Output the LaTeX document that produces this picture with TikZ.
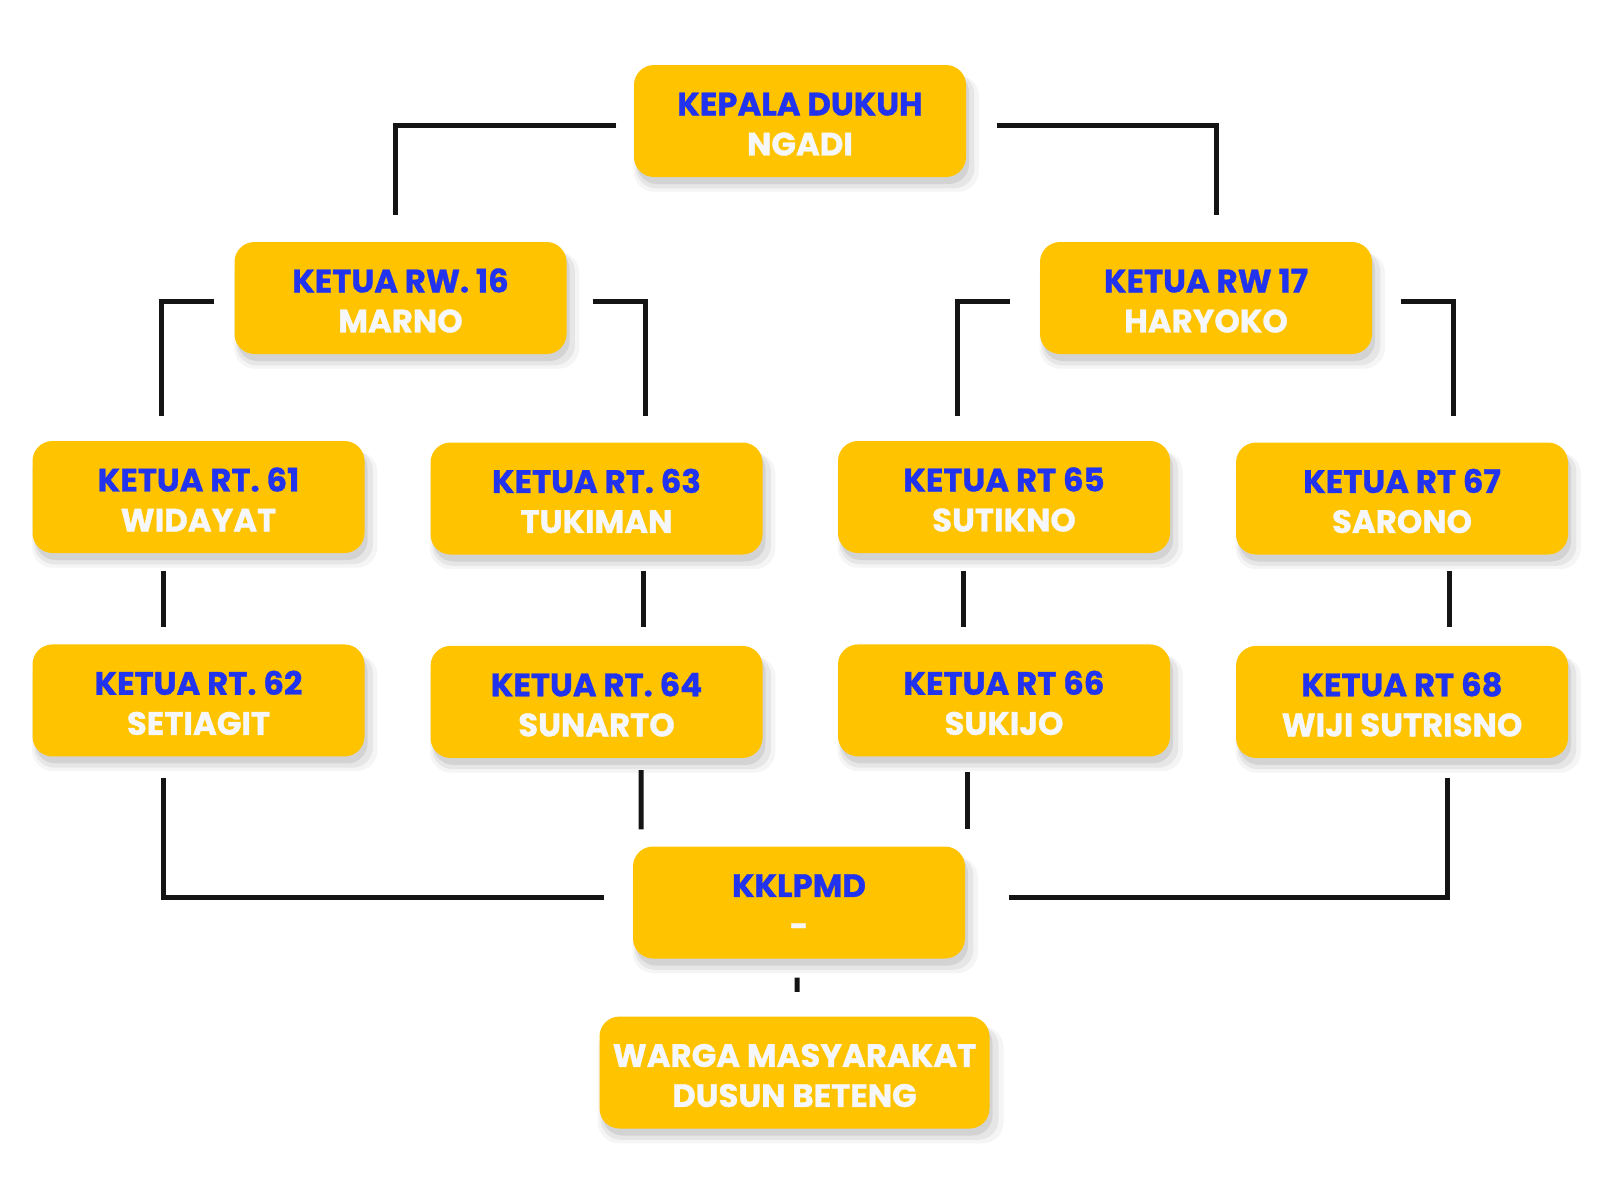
\documentclass[tikz,border=0pt]{standalone}
\usepackage{fontspec}
\setmainfont{Poppins}[BoldFeatures={FakeBold=1}]
\usepackage{xcolor}
\usetikzlibrary{positioning, calc, shadows}
\definecolor{cGold}{RGB}{255,195,0}
\definecolor{cBlue}{RGB}{34,51,238}
\definecolor{cSnow}{RGB}{246,247,251}
\definecolor{cLine}{RGB}{20,20,20}
\tikzset{
	post/.style    ={rectangle, rounded corners=0.2cm, minimum width=3.32cm, minimum height=1.12cm, align=center, inner sep=0pt, fill=cGold,
		font=\fontsize{9.2}{11.4}\selectfont\bfseries,
		general shadow={shadow xshift=0.06cm, shadow yshift=-0.12cm, shadow scale=1.04, fill=black, opacity=0.04},
		general shadow={shadow xshift=0.05cm, shadow yshift=-0.10cm, shadow scale=1.02, fill=black, opacity=0.06},
		general shadow={shadow xshift=0.03cm, shadow yshift=-0.07cm, fill=black, opacity=0.08}},
	conn/.style    ={draw=cLine, line width=0.05cm},
}
\newcommand{\officer}[2]{\rule{0pt}{0.29cm}\textcolor{cBlue}{#1}\\\textcolor{cSnow}{#2}}

\begin{document}
\begin{tikzpicture}[node distance=0.9cm]
	\fill[white] (0,0) rectangle (16,-12);
	% head
	\node[post] (head) at (8.00,-1.21) {\officer{KEPALA DUKUH}{NGADI}};
	% RW level
	\node[post] (rw16) at (4.005,-2.98) {\officer{KETUA RW. 16}{MARNO}};
	\node[post] (rw17) at (12.06,-2.98) {\officer{KETUA RW 17}{HARYOKO}};
	% RT level
	\node[post] (rt61) at (1.985,-4.97) {\officer{KETUA RT. 61}{WIDAYAT}};
	\node[post] (rt63) at (5.965,-4.985) {\officer{KETUA RT. 63}{TUKIMAN}};
	\node[post] (rt65) at (10.04,-4.97) {\officer{KETUA RT 65}{SUTIKNO}};
	\node[post] (rt67) at (14.02,-4.985) {\officer{KETUA RT 67}{SARONO}};
	\node[post, below=of rt61] (rt62) {\officer{KETUA RT. 62}{SETIAGIT}};
	\node[post, below=of rt63] (rt64) {\officer{KETUA RT. 64}{SUNARTO}};
	\node[post, below=of rt65] (rt66) {\officer{KETUA RT 66}{SUKIJO}};
	\node[post, below=of rt67] (rt68) {\officer{KETUA RT 68}{WIJI SUTRISNO}};
	% bottom
	\node[post] (kk) at (7.99,-9.025) {\officer{KKLPMD}{-}};
	\node[post, minimum width=3.9cm] (warga) at (7.945,-10.725) {\rule{0pt}{0.29cm}\textcolor{cSnow}{WARGA MASYARAKAT}\\\textcolor{cSnow}{DUSUN BETENG}};
	% connectors
	\draw[conn] ($(head.west)+(-0.17,-0.045)$) -| ($(rw16.north)+(-0.055,0.26)$);
	\draw[conn] ($(head.east)+(0.30,-0.045)$) -| ($(rw17.north)+(0.10,0.26)$);
	\draw[conn] ($(rw16.west)+(-0.195,-0.03)$) -| ($(rt61.north)+(-0.375,0.24)$);
	\draw[conn] ($(rw16.east)+(0.255,-0.03)$) -| ($(rt63.north)+(0.485,0.255)$);
	\draw[conn] ($(rw17.west)+(-0.29,-0.03)$) -| ($(rt65.north)+(-0.465,0.24)$);
	\draw[conn] ($(rw17.east)+(0.28,-0.03)$) -| ($(rt67.north)+(0.515,0.255)$);
	\draw[conn] ($(rt61.south)+(-0.355,-0.17)$) -- ($(rt62.north)+(-0.355,0.17)$);
	\draw[conn] ($(rt63.south)+(0.465,-0.155)$) -- ($(rt64.north)+(0.465,0.185)$);
	\draw[conn] ($(rt65.south)+(-0.41,-0.17)$) -- ($(rt66.north)+(-0.41,0.17)$);
	\draw[conn] ($(rt67.south)+(0.47,-0.155)$) -- ($(rt68.north)+(0.47,0.185)$);
	\draw[conn] ($(rt62.south)+(-0.355,-0.21)$) |- ($(kk.west)+(-0.28,0.055)$);
	\draw[conn] ($(rt64.south)+(0.445,-0.115)$) -- ($(kk.north)+(-1.58,0.165)$);
	\draw[conn] ($(rt66.south)+(-0.37,-0.15)$) -- ($(kk.north)+(1.68,0.165)$);
	\draw[conn] ($(rt68.south)+(0.45,-0.19)$) |- ($(kk.east)+(0.43,0.055)$);
	\draw[conn] ($(kk.south)+(-0.02,-0.185)$) -- ($(warga.north)+(0.025,0.24)$);
\end{tikzpicture}
\end{document}
